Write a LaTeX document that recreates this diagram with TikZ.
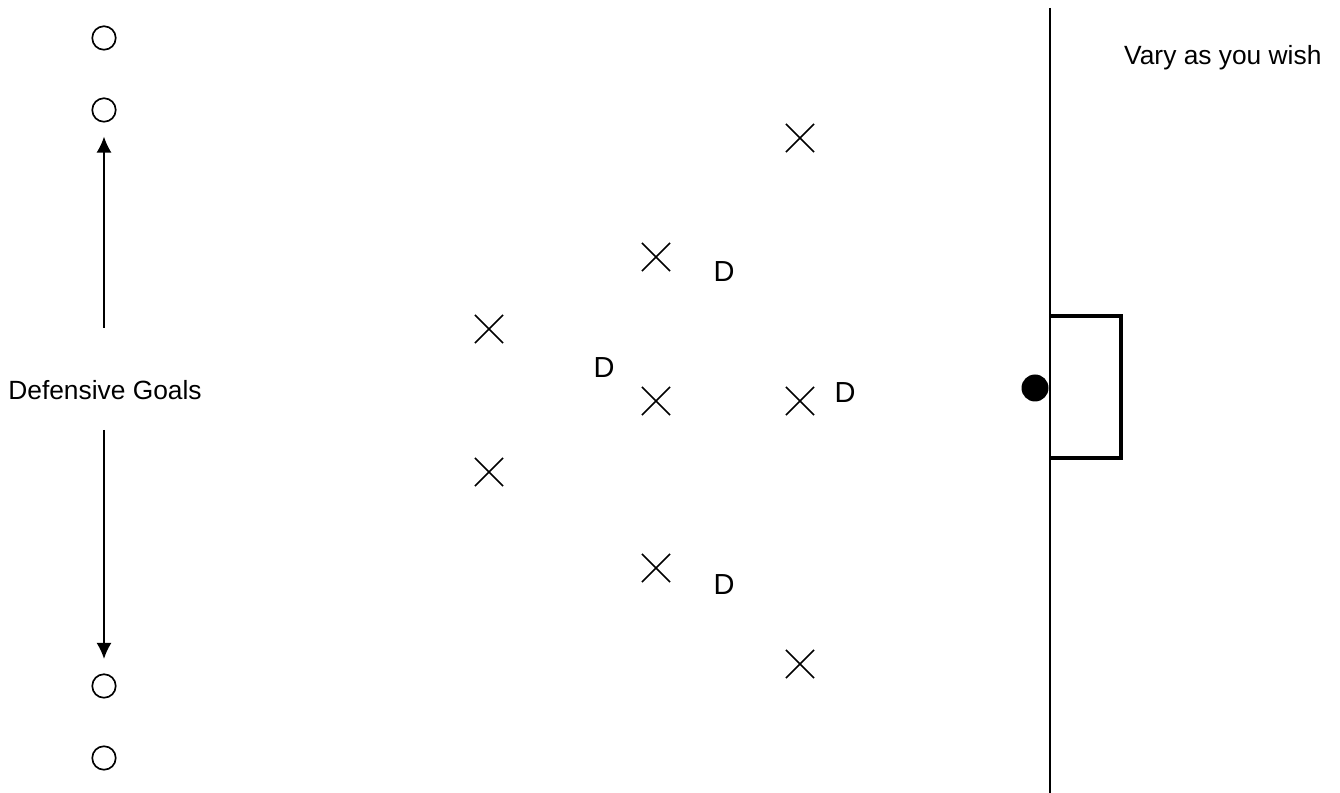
\documentclass[tikz,border=0pt]{standalone}
\usepackage{fontspec}
\setmainfont{Liberation Sans}
\usepackage{tikz}
\usetikzlibrary{arrows.meta,positioning,shapes.misc}

\begin{document}
\begin{tikzpicture}[
        x=0.02cm, y=-0.02cm,
        cone/.style={
            draw,
            circle,
            line width=0.95pt,
            inner sep=0pt,
            minimum size=0.47cm
        },
        player/.style={
            draw,
            cross out,
            line width=0.95pt,
            inner sep=0pt,
            minimum size=0.53cm
        },
        ball/.style={
            circle,
            fill=black,
            inner sep=0pt,
            minimum size=0.54cm
        },
        label/.style={
            font=\fontsize{15}{18}\selectfont
        },
        mark label/.style={
            font=\fontsize{16.5}{19}\selectfont
        },
        arrow/.style={
            -{Latex[length=0.32cm,width=0.3cm]},
            line width=0.95pt
        }
    ]
    \useasboundingbox (0,0) rectangle (1340,793);

    % defensive goals
    \node[cone] (goalA) at (104,38) {};
    \node[cone] (goalB) at (104,110) {};
    \node[cone] (goalC) at (104,686) {};
    \node[cone] (goalD) at (104,758) {};
    \node[label] (goals) at (105,390) {Defensive Goals};

    \coordinate (upstart) at (104,328);
    \coordinate (downstart) at (104,430);
    \draw[arrow, shorten >=0.28cm] (upstart) -- (goalB);
    \draw[arrow, shorten >=0.29cm] (downstart) -- (goalC);

    % players
    \node[player] (p1) at (800,138) {};
    \node[player] (p2) at (656,257) {};
    \node[player] (p3) at (489,329) {};
    \node[player] (p4) at (656,401) {};
    \node[player] (p5) at (800,401) {};
    \node[player] (p6) at (489,472) {};
    \node[player] (p7) at (656,568) {};
    \node[player] (p8) at (800,664) {};

    \node[mark label] (d1) at (724,272) {D};
    \node[mark label] (d2) at (604,368) {D};
    \node[mark label] (d3) at (845,393) {D};
    \node[mark label] (d4) at (724,585) {D};

    % goal line, goal and ball
    \coordinate (linetop) at (1050,8);
    \coordinate (linebot) at (1050,793);
    \draw[line width=0.95pt] (linetop) -- (linebot);
    \draw[line width=2.8pt] (1050,316) -| (1121,458) -- (1050,458);
    \node[ball] (ball) at (1035,388) {};

    \node[label, anchor=west] (vary) at (1118,58) {Vary as you wish};
\end{tikzpicture}
\end{document}
